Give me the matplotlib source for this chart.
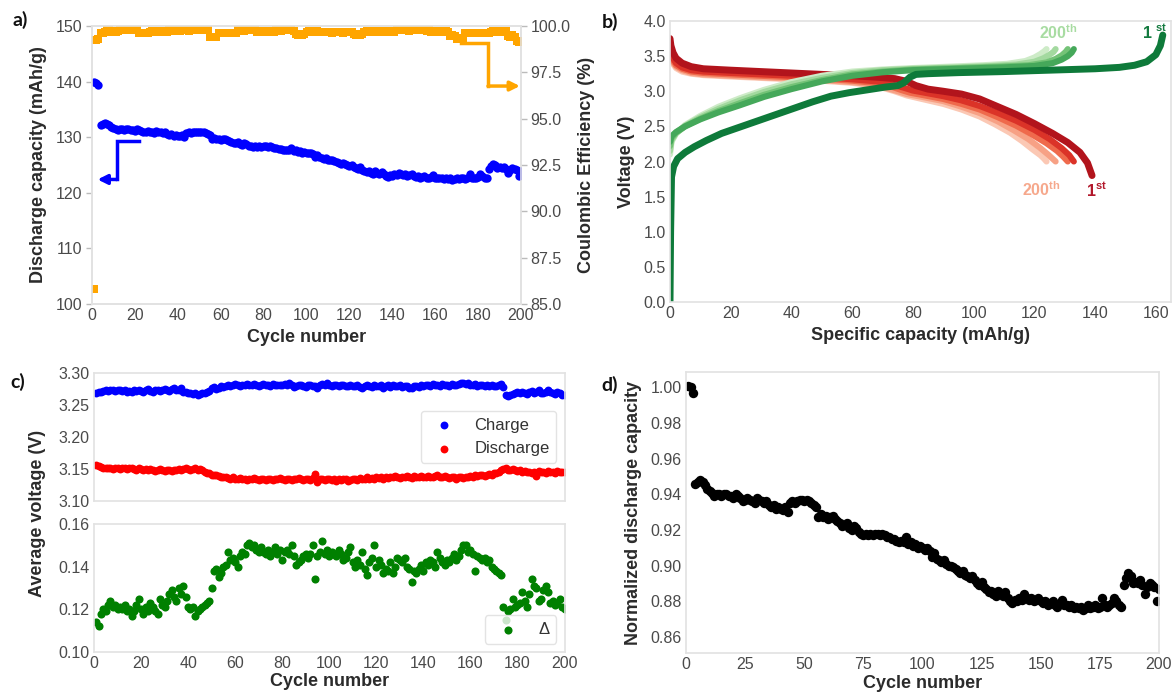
import numpy as np
import matplotlib.pyplot as plt

plt.rcParams['font.family'] = ['Liberation Sans', 'DejaVu Sans']
plt.rcParams['mathtext.fontset'] = 'custom'
plt.rcParams['mathtext.rm'] = 'Liberation Sans'
plt.rcParams['mathtext.bf'] = 'Liberation Sans:bold'

# ---------------- data ----------------
cycles = np.arange(1, 201)

# normalized discharge capacity (panel d), read per cycle
norm_cap = [1.001, 1.000, 0.997, 0.946, 0.947, 0.948, 0.947, 0.945, 0.943, 0.942,
            0.941, 0.939, 0.940, 0.940, 0.939, 0.940, 0.940, 0.939, 0.939, 0.938,
            0.940, 0.939, 0.938, 0.936, 0.937, 0.938, 0.937, 0.936, 0.935, 0.938,
            0.937, 0.936, 0.935, 0.936, 0.934, 0.933, 0.934, 0.932, 0.933, 0.932,
            0.931, 0.933, 0.930, 0.935, 0.936, 0.935, 0.936, 0.937, 0.937, 0.936,
            0.937, 0.936, 0.935, 0.934, 0.933, 0.927, 0.929, 0.927, 0.928, 0.926,
            0.927, 0.928, 0.926, 0.925, 0.924, 0.922, 0.923, 0.924, 0.921, 0.920,
            0.922, 0.921, 0.919, 0.918, 0.917, 0.918, 0.917, 0.918, 0.917, 0.918,
            0.918, 0.917, 0.918, 0.917, 0.916, 0.916, 0.915, 0.915, 0.914, 0.913,
            0.914, 0.913, 0.916, 0.912, 0.913, 0.911, 0.912, 0.910, 0.911, 0.910,
            0.909, 0.910, 0.908, 0.905, 0.907, 0.904, 0.903, 0.902, 0.903, 0.901,
            0.900, 0.900, 0.899, 0.898, 0.897, 0.896, 0.897, 0.895, 0.894, 0.893,
            0.894, 0.892, 0.890, 0.889, 0.891, 0.888, 0.887, 0.885, 0.886, 0.884,
            0.883, 0.886, 0.884, 0.883, 0.885, 0.882, 0.880, 0.879, 0.881, 0.880,
            0.882, 0.881, 0.884, 0.882, 0.881, 0.882, 0.880, 0.881, 0.882, 0.880,
            0.879, 0.880, 0.878, 0.879, 0.880, 0.878, 0.877, 0.879, 0.881, 0.878,
            0.878, 0.877, 0.878, 0.876, 0.877, 0.876, 0.877, 0.875, 0.876, 0.878,
            0.876, 0.877, 0.878, 0.876, 0.877, 0.882, 0.878, 0.877, 0.878, 0.879,
            0.882, 0.880, 0.878, 0.877, 0.889, 0.893, 0.896, 0.894, 0.890, 0.891,
            0.890, 0.892, 0.889, 0.884, 0.888, 0.890, 0.889, 0.888, 0.880, 0.887]
first_cap = 139.8  # mAh/g, first discharge
dis_cap = np.array(norm_cap) * first_cap

# coulombic efficiency (%)
ce = [85.8, 99.25, 99.3, 99.6, 99.62, 99.65, 99.8, 99.78, 99.7, 99.72,
      99.7, 99.71, 99.78, 99.8, 99.77, 99.8, 99.79, 99.8, 99.78, 99.8,
      99.79, 99.62, 99.64, 99.6, 99.63, 99.62, 99.7, 99.72, 99.7, 99.69,
      99.71, 99.7, 99.72, 99.7, 99.7, 99.76, 99.77, 99.75, 99.76, 99.78,
      99.75, 99.76, 99.77, 99.76, 99.75, 99.8, 99.79, 99.8, 99.78, 99.8,
      99.79, 99.8, 99.78, 99.8, 99.42, 99.4, 99.43, 99.41, 99.62, 99.6,
      99.63, 99.62, 99.6, 99.64, 99.62, 99.6, 99.63, 99.77, 99.76, 99.78,
      99.75, 99.77, 99.76, 99.78, 99.77, 99.76, 99.7, 99.72, 99.7, 99.71,
      99.7, 99.72, 99.7, 99.71, 99.7, 99.76, 99.77, 99.75, 99.76, 99.78,
      99.76, 99.77, 99.76, 99.75, 99.55, 99.53, 99.55, 99.54, 99.55, 99.7,
      99.71, 99.7, 99.72, 99.7, 99.71, 99.7, 99.69, 99.7, 99.67, 99.65,
      99.66, 99.64, 99.67, 99.65, 99.66, 99.65, 99.64, 99.66, 99.65, 99.67,
      99.65, 99.55, 99.53, 99.55, 99.54, 99.55, 99.7, 99.72, 99.71, 99.7,
      99.72, 99.7, 99.71, 99.7, 99.72, 99.7, 99.71, 99.7, 99.72, 99.71,
      99.7, 99.76, 99.77, 99.76, 99.78, 99.76, 99.77, 99.75, 99.76, 99.77,
      99.76, 99.78, 99.76, 99.77, 99.76, 99.75, 99.77, 99.7, 99.71, 99.7,
      99.72, 99.7, 99.71, 99.7, 99.72, 99.7, 99.45, 99.5, 99.48, 99.3,
      99.35, 99.28, 99.3, 99.62, 99.64, 99.6, 99.63, 99.62, 99.64, 99.61,
      99.63, 99.62, 99.6, 99.63, 99.62, 99.7, 99.72, 99.7, 99.71, 99.7,
      99.72, 99.7, 99.71, 99.45, 99.4, 99.5, 99.42, 99.2, 99.15, 99.2]

# average charge / discharge voltage (V)
v_charge = [3.268, 3.270, 3.271, 3.272, 3.273, 3.272, 3.274, 3.273, 3.272, 3.274,
            3.273, 3.272, 3.274, 3.271, 3.272, 3.270, 3.273, 3.272, 3.274, 3.272,
            3.271, 3.273, 3.275, 3.272, 3.271, 3.273, 3.274, 3.272, 3.273, 3.275,
            3.274, 3.272, 3.275, 3.276, 3.273, 3.274, 3.276, 3.271, 3.270, 3.269,
            3.268, 3.267, 3.268, 3.266, 3.267, 3.269, 3.268, 3.270, 3.272, 3.276,
            3.278, 3.275, 3.277, 3.279, 3.278, 3.280, 3.282, 3.280, 3.281, 3.283,
            3.281, 3.279, 3.282, 3.281, 3.283, 3.282, 3.281, 3.283, 3.282, 3.280,
            3.282, 3.283, 3.281, 3.282, 3.280, 3.283, 3.282, 3.281, 3.282, 3.281,
            3.283, 3.282, 3.284, 3.281, 3.278, 3.280, 3.282, 3.281, 3.280, 3.278,
            3.281, 3.282, 3.279, 3.280, 3.277, 3.281, 3.283, 3.282, 3.284, 3.281,
            3.280, 3.282, 3.281, 3.280, 3.282, 3.281, 3.279, 3.280, 3.281, 3.280,
            3.279, 3.281, 3.278, 3.276, 3.279, 3.281, 3.280, 3.278, 3.282, 3.280,
            3.279, 3.281, 3.277, 3.280, 3.282, 3.278, 3.281, 3.279, 3.280, 3.281,
            3.278, 3.280, 3.279, 3.276, 3.277, 3.279, 3.280, 3.278, 3.281, 3.280,
            3.282, 3.281, 3.280, 3.283, 3.282, 3.281, 3.280, 3.283, 3.281, 3.282,
            3.280, 3.283, 3.282, 3.281, 3.283, 3.284, 3.285, 3.283, 3.284, 3.282,
            3.281, 3.283, 3.280, 3.282, 3.281, 3.279, 3.281, 3.280, 3.282, 3.279,
            3.280, 3.282, 3.283, 3.278, 3.266, 3.264, 3.265, 3.267, 3.269, 3.270,
            3.268, 3.271, 3.269, 3.267, 3.270, 3.272, 3.268, 3.270, 3.273, 3.269,
            3.268, 3.271, 3.274, 3.270, 3.268, 3.267, 3.271, 3.268, 3.266, 3.265]
v_discharge = [3.157, 3.155, 3.153, 3.152, 3.151, 3.152, 3.151, 3.150, 3.152, 3.151,
               3.150, 3.151, 3.152, 3.150, 3.151, 3.152, 3.150, 3.149, 3.151, 3.150,
               3.149, 3.150, 3.148, 3.150, 3.149, 3.147, 3.149, 3.150, 3.148, 3.147,
               3.149, 3.148, 3.147, 3.149, 3.148, 3.150, 3.149, 3.150, 3.151, 3.150,
               3.149, 3.150, 3.151, 3.149, 3.150, 3.148, 3.146, 3.144, 3.143, 3.141,
               3.140, 3.141, 3.139, 3.138, 3.137, 3.138, 3.136, 3.135, 3.137, 3.134,
               3.135, 3.136, 3.134, 3.135, 3.133, 3.135, 3.134, 3.136, 3.134, 3.133,
               3.135, 3.134, 3.133, 3.135, 3.134, 3.133, 3.135, 3.134, 3.136, 3.134,
               3.133, 3.135, 3.134, 3.133, 3.135, 3.134, 3.136, 3.134, 3.133, 3.135,
               3.134, 3.133, 3.136, 3.142, 3.130, 3.135, 3.134, 3.133, 3.135, 3.134,
               3.133, 3.135, 3.132, 3.134, 3.133, 3.135, 3.134, 3.131, 3.133, 3.134,
               3.135, 3.133, 3.136, 3.134, 3.135, 3.137, 3.135, 3.136, 3.134, 3.137,
               3.136, 3.138, 3.135, 3.137, 3.136, 3.138, 3.137, 3.139, 3.137, 3.136,
               3.138, 3.137, 3.139, 3.138, 3.136, 3.139, 3.138, 3.137, 3.139, 3.138,
               3.137, 3.139, 3.138, 3.137, 3.139, 3.140, 3.138, 3.137, 3.139, 3.138,
               3.136, 3.138, 3.137, 3.135, 3.137, 3.138, 3.136, 3.138, 3.137, 3.139,
               3.138, 3.140, 3.139, 3.141, 3.140, 3.139, 3.141, 3.142, 3.140, 3.143,
               3.144, 3.145, 3.148, 3.150, 3.151, 3.149, 3.148, 3.150, 3.149, 3.147,
               3.148, 3.146, 3.147, 3.145, 3.146, 3.144, 3.146, 3.139, 3.147, 3.145,
               3.146, 3.144, 3.147, 3.145, 3.146, 3.144, 3.147, 3.146, 3.145, 3.146]
delta_v = [0.114, 0.112, 0.118, 0.120, 0.119, 0.122, 0.124, 0.121, 0.122, 0.120,
           0.121, 0.120, 0.122, 0.119, 0.120, 0.117, 0.119, 0.122, 0.125, 0.120,
           0.118, 0.121, 0.119, 0.123, 0.121, 0.119, 0.118, 0.125, 0.122, 0.121,
           0.124, 0.127, 0.129, 0.126, 0.124, 0.130, 0.127, 0.131, 0.126, 0.121,
           0.120, 0.121, 0.117, 0.119, 0.120, 0.121, 0.122, 0.123, 0.124, 0.130,
           0.138, 0.139, 0.135, 0.137, 0.140, 0.141, 0.147, 0.143, 0.144, 0.142,
           0.140, 0.145, 0.147, 0.146, 0.150, 0.151, 0.149, 0.150, 0.148, 0.147,
           0.149, 0.147, 0.146, 0.148, 0.145, 0.147, 0.149, 0.146, 0.148, 0.143,
           0.147, 0.148, 0.146, 0.150, 0.145, 0.141, 0.142, 0.143, 0.145, 0.146,
           0.144, 0.146, 0.150, 0.134, 0.145, 0.147, 0.152, 0.146, 0.148, 0.145,
           0.147, 0.146, 0.145, 0.148, 0.146, 0.143, 0.144, 0.147, 0.149, 0.142,
           0.140, 0.143, 0.141, 0.147, 0.139, 0.136, 0.142, 0.144, 0.150, 0.140,
           0.143, 0.141, 0.137, 0.139, 0.138, 0.142, 0.137, 0.140, 0.144, 0.143,
           0.142, 0.144, 0.140, 0.139, 0.133, 0.138, 0.137, 0.139, 0.141, 0.138,
           0.142, 0.141, 0.143, 0.142, 0.140, 0.147, 0.144, 0.142, 0.141, 0.143,
           0.142, 0.144, 0.146, 0.143, 0.145, 0.148, 0.150, 0.150, 0.147, 0.148,
           0.146, 0.138, 0.145, 0.144, 0.143, 0.144, 0.142, 0.143, 0.140, 0.139,
           0.138, 0.137, 0.136, 0.121, 0.115, 0.119, 0.120, 0.125, 0.121, 0.122,
           0.123, 0.128, 0.124, 0.121, 0.127, 0.134, 0.131, 0.130, 0.124, 0.125,
           0.129, 0.131, 0.128, 0.123, 0.124, 0.122, 0.123, 0.125, 0.121, 0.120]

# voltage profiles (panel b): capacity (mAh/g) / voltage (V)
chg1_q = [0, 0.2, 0.5, 1.2, 2.5, 5, 8, 12, 17, 23, 29, 35, 41, 47, 53, 59, 65, 71, 75, 77,
          79, 81, 85, 95, 110, 125, 140, 148, 153, 157, 160, 161.5, 162.3]
chg1_v = [0.0, 1.0, 1.78, 1.93, 2.04, 2.13, 2.21, 2.30, 2.40, 2.49, 2.58, 2.67, 2.76, 2.85,
          2.93, 2.98, 3.02, 3.06, 3.08, 3.12, 3.20, 3.24, 3.25, 3.265, 3.28, 3.30, 3.32,
          3.34, 3.37, 3.42, 3.52, 3.65, 3.80]
chg50_q = [0, 0.5, 2, 5, 10, 16, 23, 31, 40, 50, 60, 70, 80, 95, 110, 120, 126, 129, 131, 132.3, 133]
chg50_v = [2.28, 2.36, 2.42, 2.50, 2.60, 2.70, 2.80, 2.92, 3.03, 3.14, 3.22, 3.27, 3.30, 3.32,
           3.34, 3.36, 3.40, 3.45, 3.50, 3.55, 3.60]
chg100_q = [0, 0.5, 2, 5, 10, 16, 23, 31, 40, 50, 60, 70, 80, 95, 108, 118, 124, 127, 129, 130.3, 131]
chg100_v = [2.22, 2.33, 2.41, 2.50, 2.61, 2.72, 2.83, 2.95, 3.06, 3.16, 3.24, 3.28, 3.31, 3.33,
            3.35, 3.37, 3.41, 3.46, 3.51, 3.56, 3.60]
chg150_q = [0, 0.5, 2, 5, 10, 16, 23, 31, 40, 50, 60, 70, 80, 95, 106, 114, 120, 123, 125, 126.3, 127]
chg150_v = [2.15, 2.30, 2.40, 2.51, 2.63, 2.75, 2.87, 2.99, 3.10, 3.19, 3.26, 3.30, 3.32, 3.34,
            3.36, 3.38, 3.42, 3.47, 3.52, 3.56, 3.60]
chg200_q = [0, 0.5, 2, 5, 10, 16, 23, 31, 40, 50, 60, 70, 80, 92, 103, 111, 117, 120, 122, 123.3, 124]
chg200_v = [2.10, 2.28, 2.40, 2.52, 2.65, 2.78, 2.90, 3.02, 3.13, 3.22, 3.28, 3.31, 3.33, 3.35,
            3.37, 3.39, 3.43, 3.48, 3.53, 3.57, 3.60]

dis1_q = [0, 0.3, 1, 2, 4, 7, 11, 20, 30, 40, 50, 60, 68, 74, 78, 81, 85, 90, 96, 102, 108,
          114, 120, 126, 131, 135, 137.5, 139]
dis1_v = [3.75, 3.65, 3.55, 3.47, 3.40, 3.35, 3.32, 3.30, 3.28, 3.26, 3.24, 3.22, 3.20, 3.18,
          3.14, 3.08, 3.03, 3.00, 2.96, 2.89, 2.78, 2.67, 2.54, 2.40, 2.27, 2.13, 1.98, 1.80]
dis50_q = [0, 0.3, 1, 2, 4, 7, 11, 20, 30, 40, 50, 60, 68, 73, 77, 80, 85, 90, 96, 102, 108,
           114, 120, 125, 129, 131.5, 133]
dis50_v = [3.62, 3.55, 3.47, 3.40, 3.34, 3.30, 3.28, 3.26, 3.24, 3.22, 3.20, 3.17, 3.14, 3.10,
           3.05, 3.01, 2.97, 2.93, 2.87, 2.79, 2.69, 2.58, 2.45, 2.32, 2.19, 2.09, 2.00]
dis100_q = [0, 0.3, 1, 2, 4, 7, 11, 20, 30, 40, 50, 60, 67, 72, 76, 79, 84, 90, 96, 102, 108,
            114, 119, 124, 127.5, 129.5, 131]
dis100_v = [3.58, 3.52, 3.44, 3.37, 3.32, 3.28, 3.26, 3.24, 3.22, 3.20, 3.18, 3.15, 3.12, 3.08,
            3.02, 2.98, 2.94, 2.89, 2.82, 2.74, 2.63, 2.51, 2.39, 2.26, 2.15, 2.07, 2.00]
dis150_q = [0, 0.3, 1, 2, 4, 7, 11, 20, 30, 40, 50, 60, 66, 71, 75, 78, 83, 90, 96, 102, 108,
            113, 118, 122, 124.5, 126, 127]
dis150_v = [3.55, 3.49, 3.41, 3.35, 3.30, 3.26, 3.24, 3.22, 3.20, 3.18, 3.16, 3.13, 3.10, 3.05,
            3.00, 2.96, 2.92, 2.86, 2.78, 2.69, 2.57, 2.45, 2.32, 2.19, 2.10, 2.04, 2.00]
dis200_q = [0, 0.3, 1, 2, 4, 7, 11, 20, 30, 40, 50, 60, 66, 70, 74, 78, 83, 90, 96, 102, 107,
            112, 116, 119.5, 122, 123.2, 124]
dis200_v = [3.52, 3.46, 3.39, 3.33, 3.28, 3.25, 3.23, 3.21, 3.19, 3.17, 3.15, 3.12, 3.09, 3.05,
            3.00, 2.94, 2.89, 2.82, 2.74, 2.64, 2.53, 2.41, 2.29, 2.17, 2.09, 2.04, 2.00]

W, H = 1173, 695
TICK_C = '#4a4a4a'
LAB_C = '#2b2b2b'
SPINE_C = '#e2e2e2'


def box(l, t, r, b):
    return [l / W, 1 - b / H, (r - l) / W, (b - t) / H]


def style(ax, tick_len=0):
    for s in ax.spines.values():
        s.set_color(SPINE_C)
        s.set_linewidth(1.2)
    ax.tick_params(length=tick_len, width=1, color='#bbbbbb', labelsize=11.5,
                   labelcolor=TICK_C, pad=3)


def lab(ax, which, text, pad=4):
    kw = dict(fontsize=13, fontweight='bold', color=LAB_C, labelpad=pad)
    if which == 'x':
        ax.set_xlabel(text, **kw)
    else:
        ax.set_ylabel(text, **kw)


fig = plt.figure(figsize=(W / 100, H / 100), dpi=100)

# ---------------- a) ----------------
axa = fig.add_axes(box(92, 26, 521, 304))
axa2 = axa.twinx()
axa.scatter(cycles, dis_cap, s=36, color='#0000ff', linewidths=0, zorder=3)
axa2.plot(cycles, ce, 's', color='#ffa500', markersize=5.6, markeredgewidth=0)
axa.set_xlim(0, 200)
axa.set_ylim(100, 150)
axa2.set_ylim(85, 100)
axa.set_xticks(range(0, 201, 20))
axa.set_yticks(range(100, 151, 10))
axa2.set_yticks(np.arange(85, 100.1, 2.5))
axa2.yaxis.set_major_formatter(plt.FormatStrFormatter('%.1f'))
style(axa, 4)
style(axa2, 4)
axa.tick_params(axis='x', length=0)
lab(axa, 'x', 'Cycle number', 4)
lab(axa, 'y', 'Discharge capacity (mAh/g)', 6)
axa2.set_ylabel('Coulombic Efficiency (%)', fontsize=13, fontweight='bold',
                color=LAB_C, labelpad=5, rotation=90)
# arrows pointing to each axis
axa.annotate('', xy=(2.6, 122.4), xytext=(11.5, 122.4),
             arrowprops=dict(arrowstyle='-|>', color='#0000ff', lw=2.5,
                             mutation_scale=14, shrinkA=0, shrinkB=0))
axa.plot([21.7, 11.5, 11.5], [129.35, 129.35, 122.4], color='#0000ff', lw=2.5,
         solid_joinstyle='miter')
axa.annotate('', xy=(199.5, 139.2), xytext=(184.6, 139.2),
             arrowprops=dict(arrowstyle='-|>', color='#ffa500', lw=2.5,
                             mutation_scale=14, shrinkA=0, shrinkB=0))
axa.plot([172.1, 184.6, 184.6], [146.95, 146.95, 139.2], color='#ffa500', lw=2.5,
         solid_joinstyle='miter')

# ---------------- b) ----------------
axb = fig.add_axes(box(670, 21, 1171, 302))
dis_curves = [(dis200_q, dis200_v, '#fbc8b4'), (dis150_q, dis150_v, '#f7a185'),
              (dis100_q, dis100_v, '#ef6a4c'), (dis50_q, dis50_v, '#db3328'),
              (dis1_q, dis1_v, '#b2141c')]
chg_curves = [(chg200_q, chg200_v, '#cdebc7'), (chg150_q, chg150_v, '#a3d99f'),
              (chg100_q, chg100_v, '#74c377'), (chg50_q, chg50_v, '#45a85a'),
              (chg1_q, chg1_v, '#0e7a3a')]
for q, v, c in dis_curves + chg_curves:
    w = 5.0 if c in ('#b2141c', '#0e7a3a') else 4.4
    axb.plot(q, v, color=c, lw=w, solid_capstyle='round')
axb.set_xlim(0, 165)
axb.set_ylim(0, 4)
axb.set_xticks(range(0, 161, 20))
axb.set_yticks(np.arange(0, 4.01, 0.5))
axb.yaxis.set_major_formatter(plt.FormatStrFormatter('%.1f'))
style(axb)
lab(axb, 'x', 'Specific capacity (mAh/g)', 4)
lab(axb, 'y', 'Voltage (V)', 6)
tkw = dict(fontsize=11.5, fontweight='bold', ha='center', va='center')
axb.text(127.8, 3.84, r'200$^{\mathbf{th}}$', color='#a8dca2', **tkw)
axb.text(159.5, 3.84, r'1 $^{\mathbf{st}}$', color='#137a3f', **tkw)
axb.text(122.2, 1.6, r'200$^{\mathbf{th}}$', color='#f6a88c', **tkw)
axb.text(140.6, 1.6, r'1$^{\mathbf{st}}$', color='#b2182b', **tkw)

# ---------------- c) ----------------
axc1 = fig.add_axes(box(94, 373, 564.5, 501))
axc2 = fig.add_axes(box(94, 524, 564.5, 652))
axc1.scatter(cycles, v_charge, s=32, color='#0000ff', linewidths=0, label='Charge')
axc1.scatter(cycles, v_discharge, s=32, color='#ff0000', linewidths=0, label='Discharge')
axc2.scatter(cycles, delta_v, s=34, color='#008000', linewidths=0, label='\u0394')
for ax in (axc1, axc2):
    ax.set_xlim(0, 200)
    ax.set_xticks(range(0, 201, 20))
    style(ax)
axc1.set_ylim(3.10, 3.30)
axc1.set_yticks(np.arange(3.10, 3.301, 0.05))
axc1.yaxis.set_major_formatter(plt.FormatStrFormatter('%.2f'))
axc1.tick_params(labelbottom=False)
axc2.set_ylim(0.10, 0.16)
axc2.set_yticks(np.arange(0.10, 0.161, 0.02))
axc2.yaxis.set_major_formatter(plt.FormatStrFormatter('%.2f'))
lab(axc2, 'x', 'Cycle number', 1)
fig.text(38 / W, 1 - 513 / H, 'Average voltage (V)', rotation=90, ha='center',
         va='center', fontsize=13, fontweight='bold', color=LAB_C)
lkw = dict(fontsize=12, labelcolor='#333333', edgecolor='#dddddd', framealpha=0.8)
axc1.legend(loc='center right', **lkw)
axc2.legend(loc='lower right', **lkw)

# ---------------- d) ----------------
axd = fig.add_axes(box(686, 372, 1159, 653))
axd.scatter(cycles, norm_cap, s=46, color='#000000', linewidths=0)
axd.set_xlim(0, 200)
axd.set_ylim(0.851, 1.0086)
axd.set_xticks(range(0, 201, 25))
axd.set_yticks(np.arange(0.86, 1.001, 0.02))
axd.yaxis.set_major_formatter(plt.FormatStrFormatter('%.2f'))
style(axd)
lab(axd, 'x', 'Cycle number', 2)
lab(axd, 'y', 'Normalized discharge capacity', 6)

# panel letters
pkw = dict(fontsize=14, fontweight='bold', family=['Lato', 'DejaVu Sans'],
           color='#111111', ha='center', va='center')
fig.text(20 / W, 1 - 20 / H, 'a)', **pkw)
fig.text(610 / W, 1 - 22 / H, 'b)', **pkw)
fig.text(18 / W, 1 - 382 / H, 'c)', **pkw)
fig.text(610 / W, 1 - 385 / H, 'd)', **pkw)

fig.savefig('out.png', dpi=100)
